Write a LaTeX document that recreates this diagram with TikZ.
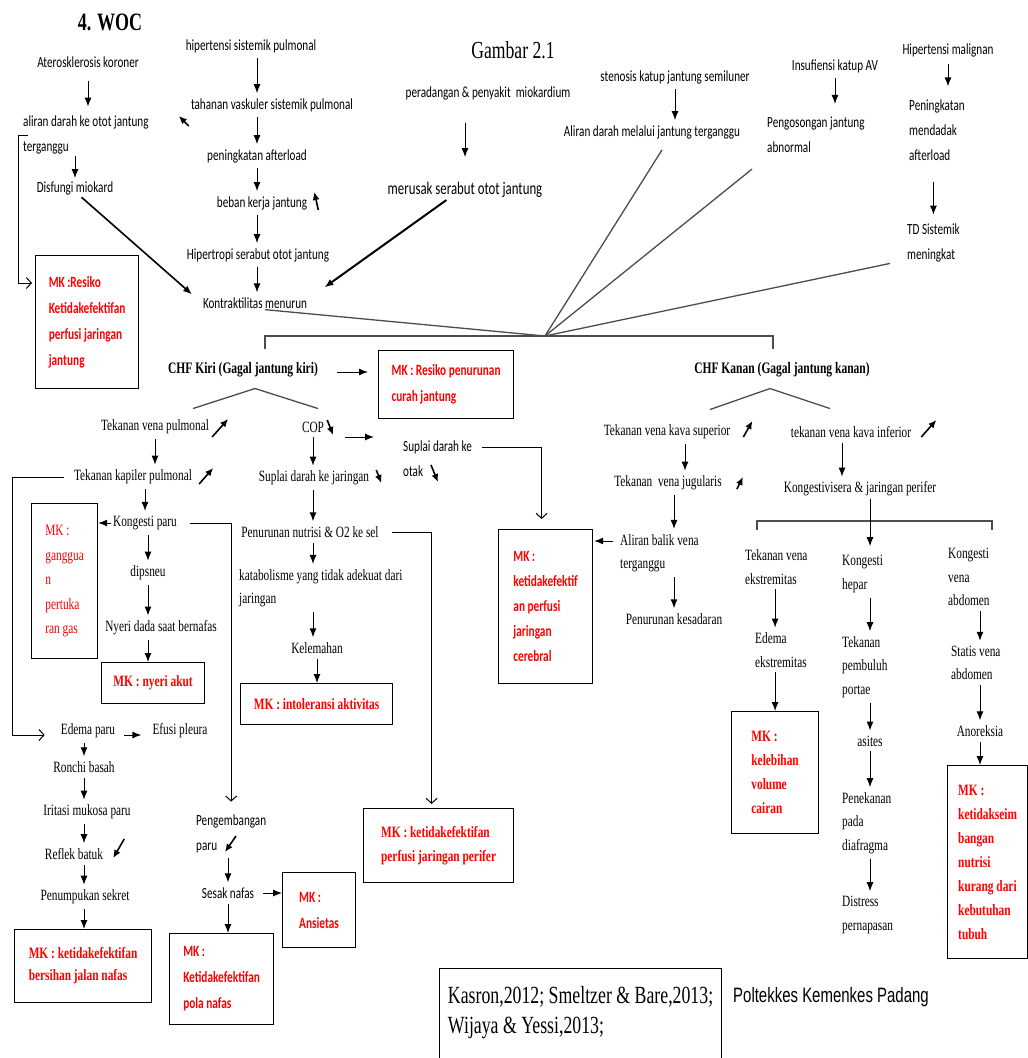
\documentclass[tikz,border=0pt]{standalone}
\usepackage{fontspec}
\setmainfont[FakeStretch=0.72]{Liberation Serif}
\newfontfamily\calfont[FakeStretch=0.72]{Carlito}
\newfontfamily\arialfont[FakeStretch=0.72]{Liberation Sans}
\usetikzlibrary{arrows.meta}

\begin{document}
\begin{tikzpicture}[x=1pt, y=-1pt,
    cal/.style={font=\calfont\fontsize{15.5}{25}\selectfont, inner sep=1pt, align=left},
    tnr/.style={font=\fontsize{15.7}{23.5}\selectfont, inner sep=1pt, align=left},
    mk/.style={draw, line width=1.2pt, anchor=north west, text=red, align=left, inner xsep=3pt, inner ysep=0pt},
    mkc/.style={mk, font=\calfont\bfseries\fontsize{15.7}{26}\selectfont},
    mkt/.style={mk, font=\bfseries\fontsize{15.8}{24}\selectfont},
    arr/.style={-{Latex[length=9pt,width=7pt]}, line width=1pt, shorten <=4pt, shorten >=4pt},
    opn/.style={-{Straight Barb[length=5pt,width=11pt]}, line width=1pt},
    ind/.style={-{Latex[length=8pt,width=7pt]}, line width=1.6pt},
    ln/.style={line width=1.3pt, draw=black!70}]
    \useasboundingbox (0,0) rectangle (1028,1058);

    \node [font=\bfseries\fontsize{25}{28}\selectfont] (woc) at (110,22) {4. WOC};
    \node [font=\fontsize{24.5}{28}\selectfont] (gbr) at (513,50) {Gambar 2.1};

    \node [cal] (ater) at (88,62) {Aterosklerosis koroner};
    \node [cal, anchor=west] (alir) at (22,135) {aliran darah ke otot jantung\\terganggu};
    \node [cal] (disf) at (75,188) {Disfungi miokard};
    \node [cal] (hsp) at (251,46) {hipertensi sistemik pulmonal};
    \node [cal] (tvs) at (272,105) {tahanan vaskuler sistemik pulmonal};
    \node [cal] (pa) at (257,156) {peningkatan afterload};
    \node [cal] (bkj) at (262,203) {beban kerja jantung};
    \node [cal] (hso) at (258,255) {Hipertropi serabut otot jantung};
    \node [cal] (kontr) at (255,303) {Kontraktilitas menurun};
    \node [cal] (prd) at (488,93) {peradangan \& penyakit \ miokardium};
    \node [cal, font=\calfont\fontsize{17.8}{20}\selectfont] (mrs) at (465,190) {merusak serabut otot jantung};
    \node [cal] (sten) at (675,77) {stenosis katup jantung semiluner};
    \node [cal] (ald) at (652,132) {Aliran darah melalui jantung terganggu};
    \node [cal] (ins) at (835,66) {Insufiensi katup AV};
    \node [cal, anchor=west] (pengos) at (766,135) {Pengosongan jantung\\abnormal};
    \node [cal] (hm) at (948,50) {Hipertensi malignan};
    \node [cal, anchor=west] (pma) at (908,130) {Peningkatan\\mendadak\\afterload};
    \node [cal, anchor=west] (tds) at (906,243) {TD Sistemik\\meningkat};

    \node [tnr, font=\bfseries\fontsize{16}{18}\selectfont] (chfl) at (243,370) {CHF Kiri (Gagal jantung kiri)};
    \node [tnr, font=\bfseries\fontsize{16}{18}\selectfont] (chfr) at (782,370) {CHF Kanan (Gagal jantung kanan)};

    \node [tnr] (tvp) at (155,427) {Tekanan vena pulmonal};
    \node [tnr] (tkp) at (133,477) {Tekanan kapiler pulmonal};
    \node [tnr] (kp) at (145,523) {Kongesti paru};
    \node [tnr] (dip) at (148,573) {dipsneu};
    \node [tnr] (nyd) at (161,628) {Nyeri dada saat bernafas};
    \node [tnr] (edp) at (88,731) {Edema paru};
    \node [tnr] (efp) at (180,731) {Efusi pleura};
    \node [tnr] (rb) at (84,767) {Ronchi basah};
    \node [tnr] (imp) at (87,812) {Iritasi mukosa paru};
    \node [tnr] (rfb) at (74,854) {Reflek batuk};
    \node [tnr] (pks) at (85,897) {Penumpukan sekret};

    \node [tnr] (cop) at (313,427) {COP};
    \node [tnr] (sdj) at (314,478) {Suplai darah ke jaringan};
    \node [tnr] (pnt) at (310,532) {Penurunan nutrisi \& O2 ke sel};
    \node [tnr, anchor=west] (kat) at (238,588) {katabolisme yang tidak adekuat dari\\jaringan};
    \node [tnr] (kel) at (317,648) {Kelemahan};
    \node [cal, anchor=west] (sdo) at (402,459) {Suplai darah ke\\otak};
    \node [cal, anchor=west] (peng) at (195,834) {Pengembangan\\paru};
    \node [cal] (sesak) at (228,893) {Sesak nafas};

    \node [tnr] (tvks) at (667,432) {Tekanan vena kava superior};
    \node [tnr] (tvj) at (668,483) {Tekanan \ vena jugularis};
    \node [tnr, anchor=west] (abv) at (619,553) {Aliran balik vena\\terganggu};
    \node [tnr] (pk) at (674,619) {Penurunan kesadaran};
    \node [tnr] (tvki) at (851,432) {tekanan vena kava inferior};
    \node [tnr] (kvj) at (860,489) {Kongestivisera \& jaringan perifer};
    \node [tnr, anchor=west] (tve) at (744,567) {Tekanan vena\\ekstremitas};
    \node [tnr, anchor=west] (ede) at (754,650) {Edema\\ekstremitas};
    \node [tnr, anchor=west] (kh) at (841,574) {Kongesti\\hepar};
    \node [tnr, anchor=west] (tpp) at (841,667) {Tekanan\\pembuluh\\portae};
    \node [tnr] (ast) at (870,741) {asites};
    \node [tnr, anchor=west] (ppd) at (841,823) {Penekanan\\pada\\diafragma};
    \node [tnr, anchor=west] (dp) at (841,915) {Distress\\pernapasan};
    \node [tnr, anchor=west] (kva) at (947,577) {Kongesti\\vena\\abdomen};
    \node [tnr, anchor=west] (sva) at (950,663) {Statis vena\\abdomen};
    \node [tnr] (anr) at (980,731) {Anoreksia};

    \node [mkc, minimum width=103pt, minimum height=133pt] (mk1) at (35,255) {MK :Resiko\\Ketidakefektifan\\perfusi jaringan\\jantung};
    \node [mkc, minimum width=135pt, minimum height=68pt] (mk2) at (378,350) {MK : Resiko penurunan\\curah jantung};
    \node [mkt, font=\fontsize{15.8}{24.5}\selectfont, minimum width=66pt, minimum height=155pt] (mk3) at (31,503) {MK :\\ganggua\\n\\pertuka\\ran gas};
    \node [mkt, minimum width=103pt, minimum height=41pt] (mk4) at (101,662) {MK : nyeri akut};
    \node [mkt, font=\bfseries\fontsize{15.8}{22}\selectfont, minimum width=137pt, minimum height=73pt] (mk5) at (14,929) {MK : ketidakefektifan\\bersihan jalan nafas};
    \node [mkt, minimum width=152pt, minimum height=41pt] (mk6) at (240,683) {MK : intoleransi aktivitas};
    \node [mkt, minimum width=150pt, minimum height=74pt] (mk7) at (363,808) {MK : ketidakefektifan\\perfusi jaringan perifer};
    \node [mkc, font=\calfont\bfseries\fontsize{15.7}{25}\selectfont, minimum width=94pt, minimum height=154pt] (mk8) at (498,529) {MK :\\ketidakefektif\\an perfusi\\jaringan\\cerebral};
    \node [mkc, minimum width=73pt, minimum height=75pt] (mk9) at (282,872) {MK :\\Ansietas};
    \node [mkc, minimum width=104pt, minimum height=91pt] (mk10) at (169,933) {MK :\\Ketidakefektifan\\pola nafas};
    \node [mkt, minimum width=87pt, minimum height=122pt] (mk11) at (731,711) {MK :\\kelebihan\\volume\\cairan};
    \node [mkt, minimum width=80pt, minimum height=193pt] (mk12) at (947,765) {MK :\\ketidakseim\\bangan\\nutrisi\\kurang dari\\kebutuhan\\tubuh};

    \node [draw, line width=1.2pt, anchor=north west, minimum width=282pt, minimum height=112pt, align=left, font=\fontsize{24.7}{30}\selectfont] (ref) at (439,968) {Kasron,2012; Smeltzer \& Bare,2013;\\Wijaya \& Yessi,2013;\\ ~};
    \node [font=\arialfont\fontsize{20.8}{24}\selectfont] (polt) at (831,997) {Poltekkes Kemenkes Padang};

    \coordinate (hub) at (545,336);
    \coordinate (brl) at (757,530);
    \coordinate (brr) at (992,530);

    \draw [arr, shorten <=12pt, shorten >=8pt] (ater) -- (ater |- alir.north);
    \draw [arr, shorten <=1pt, shorten >=2pt] (alir.south -| disf) -- (disf);
    \draw [opn, shorten >=3pt] ([shift={(6,0)}]alir.west) -- ++(-10,0) |- ([shift={(0,28)}]mk1.north west);
    \draw [arr, line width=1.6pt, shorten <=2pt, shorten >=13pt] ([shift={(5,0)}]disf.south) -- (kontr.west);
    \draw [arr] (pa |- hsp.south) -- (pa |- tvs.north);
    \draw [arr] (pa |- tvs.south) -- (pa);
    \draw [arr] (pa) -- (pa |- bkj.north);
    \draw [arr] (pa |- bkj.south) -- (pa |- hso.north);
    \draw [arr] (pa |- hso.south) -- (pa |- kontr.north);
    \draw [arr, shorten <=22pt, shorten >=24pt] (mrs |- prd.south) -- (mrs);
    \draw [arr, line width=2pt, shorten <=2pt, shorten >=20pt] ([shift={(-17,0)}]mrs.south) -- ([shift={(0,-4)}]kontr.east);
    \draw [arr] (sten) -- (sten |- ald.north);
    \draw [arr, shorten >=12pt] (ins) -- (ins |- pengos.north);
    \draw [arr, shorten <=6pt, shorten >=12pt] (hm) -- (hm |- pma.north);
    \draw [arr, shorten <=20pt, shorten >=8pt] (tds.north |- pma.south) -- (tds.north);

    \draw [ln] ([shift={(10,0)}]kontr.south) -- (hub);
    \draw [ln] ([shift={(10,10)}]ald.south) -- (hub);
    \draw [ln] ([shift={(-14,15)}]pengos.south west) -- (hub);
    \draw [ln] ([shift={(-16,0)}]tds.south west) -- (hub);
    \draw [ln, shorten <=12pt, shorten >=12pt] ([shift={(22,0)}]chfl.north) |- (hub) -| ([shift={(-9,0)}]chfr.north);
    \draw [ln] ([shift={(-50,30)}]chfl.south) -- ([shift={(12,10)}]chfl.south) -- ([shift={(75,30)}]chfl.south);
    \draw [ln] ([shift={(-72,31)}]chfr.south) -- ([shift={(-12,10)}]chfr.south) -- ([shift={(48,30)}]chfr.south);
    \draw [arr, shorten <=18pt, shorten >=10pt] ([shift={(0,2)}]chfl.east) -- ([shift={(0,22)}]mk2.north west);

    \draw [arr] (tvp) -- (tvp |- tkp.north);
    \draw [arr] (kp |- tkp.south) -- (kp);
    \draw [arr, shorten <=1pt, shorten >=0pt] (kp.west) -- (kp.west -| mk3.east);
    \draw [arr] (dip |- kp.south) -- (dip);
    \draw [arr] (dip) -- (dip |- nyd.north);
    \draw [arr, shorten >=0pt] (dip |- nyd.south) -- (dip |- mk4.north);
    \draw [opn, shorten >=15pt] ([shift={(-9,0)}]tkp.west) -| ([shift={(-47,4)}]edp.west) -- ([shift={(0,4)}]edp.west);
    \draw [opn, shorten >=12pt] ([shift={(12,0)}]kp.east) -| (peng.north);
    \draw [arr, shorten <=8pt, shorten >=10pt] ([shift={(0,4)}]edp.east) -- ([shift={(0,4)}]efp.west);
    \draw [arr] (rb |- edp.south) -- (rb);
    \draw [arr] (rb) -- (rb |- imp.north);
    \draw [arr] (rb |- imp.south) -- (rb |- rfb.north);
    \draw [arr] (rb |- rfb.south) -- (rb |- pks.north);
    \draw [arr, shorten >=0pt] (rb |- pks.south) -- (rb |- mk5.north);

    \draw [arr] (cop) -- (cop |- sdj.north);
    \draw [arr] (cop |- sdj.south) -- (cop |- pnt.north);
    \draw [arr] (cop |- pnt.south) -- (cop |- kat.north);
    \draw [arr] (cop |- kat.south) -- (cop |- kel.north);
    \draw [arr, shorten >=0pt] (kel) -- (kel |- mk6.north);
    \draw [arr, shorten <=0pt, shorten >=0pt] ([shift={(20,10)}]cop.east) -- ([shift={(-28,-22)}]sdo.west);
    \draw [opn, shorten >=4pt] ([shift={(12,0)}]pnt.east) -| ([shift={(-7,0)}]mk7.north);
    \draw [opn, shorten >=10pt] ([shift={(9,8)}]sdo.north east) -| ([shift={(-4,0)}]mk8.north);
    \draw [arr] (sesak |- peng.south) -- (sesak);
    \draw [arr, shorten <=8pt, shorten >=0pt] (sesak.east) -- (sesak.east -| mk9.west);
    \draw [arr, shorten >=0pt] (sesak) -- (sesak |- mk10.north);

    \draw [arr] ([shift={(18,0)}]tvks.south) -- ([shift={(17,0)}]tvj.north);
    \draw [arr] (pk |- tvj.south) -- (pk |- abv.north);
    \draw [arr] (pk |- abv.south) -- (pk);
    \draw [arr, shorten <=6pt, shorten >=1pt] ([shift={(0,-12)}]abv.west) -- ([shift={(0,12)}]mk8.north east);
    \draw [arr] ([shift={(-9,0)}]tvki.south) -- ([shift={(-18,0)}]kvj.north);
    \draw [ln] (brl) -- ++(0,-9) -| (brr);
    \draw [arr, shorten <=2pt, shorten >=8pt] (ast |- kvj.south) -- (ast |- kh.north);
    \draw [arr] (mk11.north |- tve.south) -- (mk11.north |- ede.north);
    \draw [arr, shorten >=0pt] (mk11.north |- ede.south) -- (mk11.north);
    \draw [arr] (ast |- kh.south) -- (ast |- tpp.north);
    \draw [arr] (ast |- tpp.south) -- (ast);
    \draw [arr] (ast) -- (ast |- ppd.north);
    \draw [arr] (ast |- ppd.south) -- (ast |- dp.north);
    \draw [arr] (anr |- kva.south) -- (anr |- sva.north);
    \draw [arr] (anr |- sva.south) -- (anr);
    \draw [arr, shorten >=0pt] (anr) -- (anr |- mk12.north);

    \draw [ind] ([shift={(-1,21)}]tvs.west) -- ++(-10,-10);
    \draw [ind] ([shift={(10,7)}]bkj.east) -- ++(-4,-18);
    \draw [ind] ([shift={(2,10)}]tvp.east) -- ++(16,-18);
    \draw [ind] ([shift={(6,7)}]tkp.east) -- ++(14,-16);
    \draw [ind] ([shift={(2,-7)}]cop.east) -- ++(6,15);
    \draw [ind] ([shift={(6,-8)}]sdj.east) -- ++(5,13);
    \draw [ind] ([shift={(29,6)}]sdo.west) -- ++(7,17);
    \draw [ind] ([shift={(20,-15)}]rfb.east) -- ++(-11,19);
    \draw [ind] ([shift={(41,2)}]peng.west) -- ++(-11,16);
    \draw [ind] ([shift={(12,5)}]tvks.east) -- ++(9,-16);
    \draw [ind] ([shift={(14,6)}]tvj.east) -- ++(6,-12);
    \draw [ind] ([shift={(9,5)}]tvki.east) -- ++(15,-17);
\end{tikzpicture}
\end{document}
